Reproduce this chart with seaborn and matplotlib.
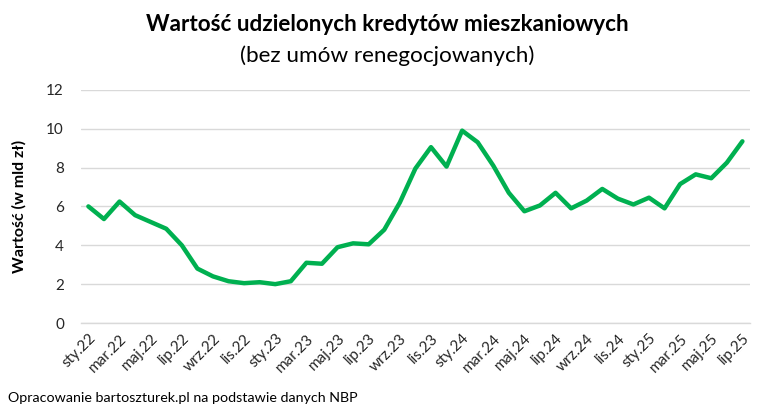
import pandas as pd
import numpy as np
import matplotlib
matplotlib.use("Agg")
import matplotlib.pyplot as plt
import seaborn as sns

# Dane
miesiace = ['sty', 'lut', 'mar', 'kwi', 'maj', 'cze', 'lip', 'sie', 'wrz', 'paź', 'lis', 'gru']
lata = ['22', '23', '24', '25']
okresy = [m + '.' + r for r in lata for m in miesiace][:43]
wartosci = [6.0, 5.35, 6.25, 5.55, 5.2, 4.85, 4.0, 2.8, 2.4, 2.15, 2.05, 2.1,
            2.0, 2.15, 3.1, 3.05, 3.9, 4.1, 4.05, 4.8, 6.2, 7.95, 9.05, 8.05,
            9.9, 9.3, 8.1, 6.7, 5.75, 6.05, 6.7, 5.9, 6.3, 6.9, 6.4, 6.1,
            6.45, 5.9, 7.15, 7.65, 7.45, 8.25, 9.35]
y_ticks = [0, 2, 4, 6, 8, 10, 12]

df = pd.DataFrame({'Okres': okresy, 'Wartosc': wartosci})
df['Nr'] = range(len(df))

sns.set_theme(style="white")
plt.rcParams['font.family'] = ['Lato', 'DejaVu Sans']

fig = plt.figure(figsize=(7.75, 4.12), dpi=100)
ax = fig.add_axes([0.104, 0.216, 0.864, 0.566])

sns.lineplot(data=df, x='Nr', y='Wartosc', color='#00b050', linewidth=3.2, ax=ax)

ax.set_xlim(-0.5, len(df) - 0.5)
ax.set_ylim(0, 12)
ax.set_yticks(y_ticks)
ax.yaxis.grid(True, color='#d9d9d9', linewidth=1)
ax.set_axisbelow(True)
for s in ['left', 'right', 'top']:
    ax.spines[s].set_visible(False)
ax.spines['bottom'].set_color('#d9d9d9')
ax.spines['bottom'].set_linewidth(1)

# etykiety co 2 miesiące, kreski między kategoriami
ax.set_xticks(df.Nr[::2])
ax.set_xticklabels(df.Okres[::2], rotation=45, ha='right', rotation_mode='anchor', fontsize=11, color='#262626')
ax.set_xticks(np.arange(-0.5, len(df) - 1, 2), minor=True)
ax.tick_params(axis='x', which='major', length=0, pad=6)
ax.tick_params(axis='x', which='minor', length=5, color='#d9d9d9', width=1, direction='out')
ax.tick_params(axis='y', length=0, labelsize=11, labelcolor='#262626', pad=12)

ax.set_xlabel('')
ax.set_ylabel('Wartość (w mld zł)', fontsize=11.5, fontweight='bold', color='black', labelpad=14)

fig.text(0.5, 0.94, 'Wartość udzielonych kredytów mieszkaniowych', ha='center', va='center',
         fontsize=16.2, fontweight='bold', color='black')
fig.text(0.5, 0.865, '(bez umów renegocjowanych)', ha='center', va='center',
         fontsize=16.2, color='black')
fig.text(0.01, 0.035, 'Opracowanie bartoszturek.pl na podstawie danych NBP', ha='left', va='center',
         fontsize=10.3, color='black')

fig.savefig('out.png', dpi=100, facecolor='white')
